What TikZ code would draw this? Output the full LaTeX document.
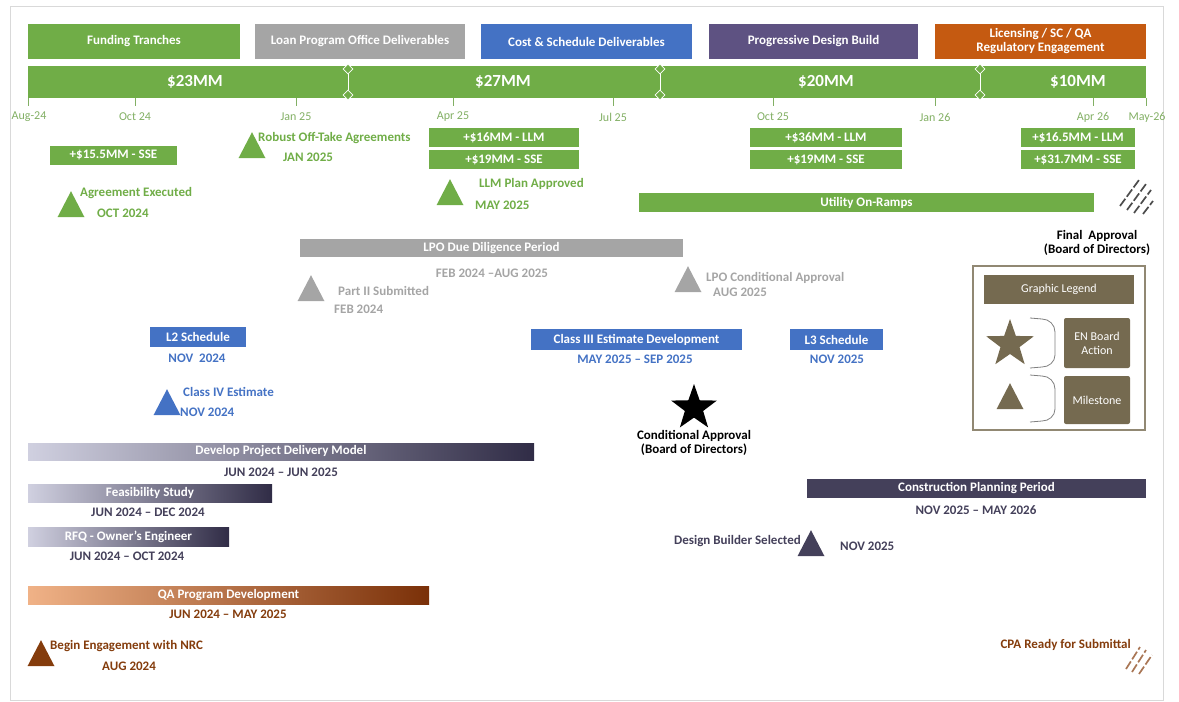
\documentclass[tikz,border=0pt]{standalone}
\usepackage{fontspec}
\setmainfont{Carlito}
\usetikzlibrary{shapes.geometric}

\definecolor{fundgreen}{RGB}{112,173,71}
\definecolor{lpogray}{RGB}{165,165,165}
\definecolor{costblue}{RGB}{68,114,196}
\definecolor{pdbpurple}{RGB}{94,82,130}
\definecolor{licorange}{RGB}{197,90,17}
\definecolor{darkviolet}{RGB}{68,64,90}
\definecolor{paleviolet}{RGB}{208,208,224}
\definecolor{deepviolet}{RGB}{48,44,70}
\definecolor{nrcbrown}{RGB}{132,60,12}
\definecolor{paleorange}{RGB}{240,178,135}
\definecolor{deepbrown}{RGB}{122,48,8}
\definecolor{legolive}{RGB}{117,106,80}
\definecolor{axisgreen}{RGB}{130,175,100}

\tikzset{
  every node/.style={font=\bfseries\fontsize{13}{14.5}\selectfont},
  hdr/.style={fill=#1, text=white, minimum height=35pt, inner sep=0pt, align=center},
  fund/.style={fill=fundgreen, text=white, minimum height=19pt, inner sep=0pt},
  period/.style={fill=#1, text=white, minimum height=19pt, inner sep=0pt},
  fade/.style 2 args={left color=#1, right color=#2, text=white, minimum height=18pt, inner sep=0pt},
  amount/.style={text=white, font=\bfseries\fontsize{17}{18}\selectfont},
  axislab/.style={text=axisgreen, font=\fontsize{12}{13}\selectfont},
  divmark/.style={diamond, draw=white, fill=fundgreen, minimum size=10pt, inner sep=0pt, line width=0.8pt},
  mile/.style={isosceles triangle, isosceles triangle apex angle=60, shape border rotate=90,
    isosceles triangle stretches, minimum width=27pt, minimum height=26pt, inner sep=0pt, fill=#1},
  lbl/.style={text=#1, anchor=west, inner sep=0pt},
  dates/.style={text=#1, inner sep=0pt},
  legtext/.style={fill=legolive, text=white, rounded corners=2pt, align=center,
    minimum width=66pt, font=\fontsize{12}{14}\selectfont},
  hatch/.style={draw=#1, line width=1.7pt, dash pattern=on 9pt off 2.5pt},
}

\begin{document}
\begin{tikzpicture}[x=1pt, y=-1pt]
  \useasboundingbox (0,0) rectangle (1179,702);
  \draw[black!15, line width=1pt] (10,6) rectangle (1163,700);

  % header
  \node[hdr=fundgreen, minimum width=212pt] (hFund) at (134,41.5) {Funding Tranches};
  \node[hdr=lpogray, minimum width=210pt] (hLpo) at (360,41.5) {Loan Program Office Deliverables};
  \node[hdr=costblue, minimum width=211pt] (hCost) at (586.5,41.5) {Cost \& Schedule Deliverables};
  \node[hdr=pdbpurple, minimum width=209pt] (hPdb) at (813.5,41.5) {Progressive Design Build};
  \node[hdr=licorange, minimum width=211pt, font=\bfseries\fontsize{13}{14}\selectfont] (hLic) at (1040.5,41.5) {Licensing / SC / QA\\Regulatory Engagement};

  % funding bar
  \node[fill=fundgreen, minimum width=1118pt, minimum height=32pt, inner sep=0pt] (bar) at (587,82) {};
  \node[amount] (a1) at (195,82) {\$23MM};
  \node[amount] (a2) at (503,82) {\$27MM};
  \node[amount] (a3) at (826,82) {\$20MM};
  \node[amount] (a4) at (1078,82) {\$10MM};

  \node[divmark] (d1a) at (348,69) {};
  \node[divmark] (d1b) at (348,95) {};
  \node[divmark] (d2a) at (660,69) {};
  \node[divmark] (d2b) at (660,95) {};
  \node[divmark] (d3a) at (980,69) {};
  \node[divmark] (d3b) at (980,95) {};
  \begin{scope}[white, line width=0.8pt]
    \draw (d1a) -- (d1b);
    \draw (d2a) -- (d2b);
    \draw (d3a) -- (d3b);
  \end{scope}

  % axis
  \begin{scope}[axisgreen, line width=0.8pt]
    \draw (28,98) -- (28,106);
    \draw (135,98) -- (135,106);
    \draw (296,98) -- (296,106);
    \draw (453,98) -- (453,106);
    \draw (613,98) -- (613,106);
    \draw (773,98) -- (773,106);
    \draw (935,98) -- (935,106);
    \draw (1093,98) -- (1093,106);
    \draw (1146,98) -- (1146,106);
  \end{scope}
  \node[axislab] (t0) at (29,117) {Aug-24};
  \node[axislab] (t1) at (135,117) {Oct 24};
  \node[axislab] (t2) at (296,117) {Jan 25};
  \node[axislab] (t3) at (453,117) {Apr 25};
  \node[axislab] (t4) at (613,117) {Jul 25};
  \node[axislab] (t5) at (773,117) {Oct 25};
  \node[axislab] (t6) at (935,117) {Jan 26};
  \node[axislab] (t7) at (1093,117) {Apr 26};
  \node[axislab] (t8) at (1147,117) {May-26};

  % tranches
  \node[fund, minimum width=127pt] (f1) at (113.5,155) {+\$15.5MM - SSE};
  \node[fund, minimum width=150pt] (f2) at (504,137.5) {+\$16MM - LLM};
  \node[fund, minimum width=150pt] (f3) at (504,159.5) {+\$19MM - SSE};
  \node[fund, minimum width=152pt] (f4) at (826,137.5) {+\$36MM - LLM};
  \node[fund, minimum width=152pt] (f5) at (826,159.5) {+\$19MM - SSE};
  \node[fund, minimum width=114pt] (f6) at (1078,137.5) {+\$16.5MM - LLM};
  \node[fund, minimum width=114pt] (f7) at (1078,159.5) {+\$31.7MM - SSE};

  % green milestones
  \node[mile=fundgreen] (mAgree) at (71,209) {};
  \node[lbl=fundgreen] (mAgreeT) at (80,193) {Agreement Executed};
  \node[lbl=fundgreen] (mAgreeD) at (97,213) {OCT 2024};
  \node[mile=fundgreen] (mOff) at (252,150) {};
  \node[lbl=fundgreen] (mOffT) at (258,138) {Robust Off-Take Agreements};
  \node[lbl=fundgreen] (mOffD) at (283,157) {JAN 2025};
  \node[mile=fundgreen] (mLlm) at (450,197) {};
  \node[lbl=fundgreen] (mLlmT) at (479,184) {LLM Plan Approved};
  \node[lbl=fundgreen] (mLlmD) at (475,205) {MAY 2025};
  \node[period=fundgreen, minimum width=455pt] (util) at (866.5,202.5) {Utility On-Ramps};

  \begin{scope}[hatch=black!70]
    \draw (1120,206) -- (1139,180);
    \draw (1127,210) -- (1146,184);
    \draw (1134,213) -- (1151,190);
    \draw (1143,214) -- (1153,201);
  \end{scope}
  \node[align=center] (final) at (1097,243) {Final~ Approval\\(Board of Directors)};

  % LPO
  \node[period=lpogray, minimum width=383pt, minimum height=18pt] (lpo) at (491.5,248) {LPO Due Diligence Period};
  \node[dates=lpogray] (lpoD) at (492,273) {FEB 2024 --AUG 2025};
  \node[mile=lpogray] (mPart) at (311,293) {};
  \node[lbl=lpogray] (mPartT) at (338,291) {Part II Submitted};
  \node[lbl=lpogray] (mPartD) at (334,309) {FEB 2024};
  \node[mile=lpogray] (mCond) at (688,284) {};
  \node[lbl=lpogray] (mCondT) at (706,278) {LPO Conditional Approval};
  \node[lbl=lpogray] (mCondD) at (713,292) {AUG 2025};

  % cost and schedule
  \node[period=costblue, minimum width=96pt, minimum height=20pt] (l2) at (198,337) {L2 Schedule};
  \node[dates=costblue] (l2D) at (197,358) {NOV~ 2024};
  \node[mile=costblue] (mC4) at (167,407) {};
  \node[lbl=costblue] (mC4T) at (183,392) {Class IV Estimate};
  \node[lbl=costblue] (mC4D) at (180,412) {NOV 2024};
  \node[period=costblue, minimum width=211pt, minimum height=21pt] (c3) at (636.5,339.5) {Class III Estimate Development};
  \node[dates=costblue] (c3D) at (635,359) {MAY 2025 -- SEP 2025};
  \node[period=costblue, minimum width=93pt, minimum height=21pt] (l3) at (836.5,339.5) {L3 Schedule};
  \node[dates=costblue] (l3D) at (837,359) {NOV 2025};

  \node[star, star points=5, star point ratio=2.5, minimum size=48pt, inner sep=0pt, fill=black] (board) at (694,408) {};
  \node[align=center] (boardT) at (694,443) {Conditional Approval\\(Board of Directors)};

  % legend
  \node[draw=legolive!80, line width=2pt, minimum width=172pt, minimum height=164pt] (leg) at (1059,348) {};
  \node[fill=legolive, text=white, minimum width=150pt, minimum height=29pt, font=\fontsize{12}{13}\selectfont] (legT) at (1059,289.5) {Graphic Legend};
  \node[star, star points=5, star point ratio=2.5, minimum size=50pt, inner sep=0pt, fill=legolive] (legStar) at (1010,344) {};
  \node[legtext, minimum height=50pt] (legEn) at (1097,343) {EN Board\\Action};
  \node[mile=legolive] (legMile) at (1010,401) {};
  \node[legtext, minimum height=48pt] (legMs) at (1097,400) {Milestone};
  \begin{scope}[black!50, line width=0.8pt]
    \draw (1030,318) -- (1042,319) to[out=0, in=90] (1055,332) -- (1055,355) to[out=-90, in=0] (1042,367) -- (1030,368);
    \draw (1030,375) -- (1042,376) to[out=0, in=90] (1055,389) -- (1055,409) to[out=-90, in=0] (1042,421) -- (1030,422);
  \end{scope}

  % project delivery
  \node[fade={paleviolet}{deepviolet}, minimum width=506pt, minimum height=17pt] (dev) at (281,451.5) {Develop Project Delivery Model};
  \node[dates=darkviolet] (devD) at (281,472) {JUN 2024 -- JUN 2025};
  \node[fade={paleviolet}{deepviolet}, minimum width=244pt] (feas) at (150,493) {Feasibility Study};
  \node[dates=darkviolet] (feasD) at (148,512) {JUN 2024 -- DEC 2024};
  \node[fade={paleviolet}{deepviolet}, minimum width=201pt, minimum height=19pt] (rfq) at (128.5,536.5) {RFQ - Owner's Engineer};
  \node[dates=darkviolet] (rfqD) at (127,556) {JUN 2024 -- OCT 2024};

  \node[period=darkviolet, minimum width=339pt] (cpp) at (976.5,488.5) {Construction Planning Period};
  \node[dates=darkviolet] (cppD) at (976,510) {NOV 2025 -- MAY 2026};
  \node[mile=darkviolet] (mDb) at (811,548) {};
  \node[lbl=darkviolet, anchor=east] (mDbT) at (801,541) {Design Builder Selected};
  \node[lbl=darkviolet] (mDbD) at (840,546) {NOV 2025};

  % QA / NRC
  \node[fade={paleorange}{deepbrown}, minimum width=401pt] (qa) at (228.5,595) {QA Program Development};
  \node[dates=nrcbrown] (qaD) at (228,614) {JUN 2024 -- MAY 2025};
  \node[mile=nrcbrown] (mNrc) at (41,658) {};
  \node[lbl=nrcbrown] (mNrcT) at (50,646) {Begin Engagement with NRC};
  \node[lbl=nrcbrown] (mNrcD) at (102,666) {AUG 2024};
  \node[lbl=nrcbrown, anchor=east] (cpa) at (1131,645) {CPA Ready for Submittal};
  \begin{scope}[hatch=nrcbrown!70]
    \draw (1126,669) -- (1140,647);
    \draw (1132,672) -- (1146,650);
    \draw (1139,674) -- (1152,655);
  \end{scope}
\end{tikzpicture}
\end{document}
